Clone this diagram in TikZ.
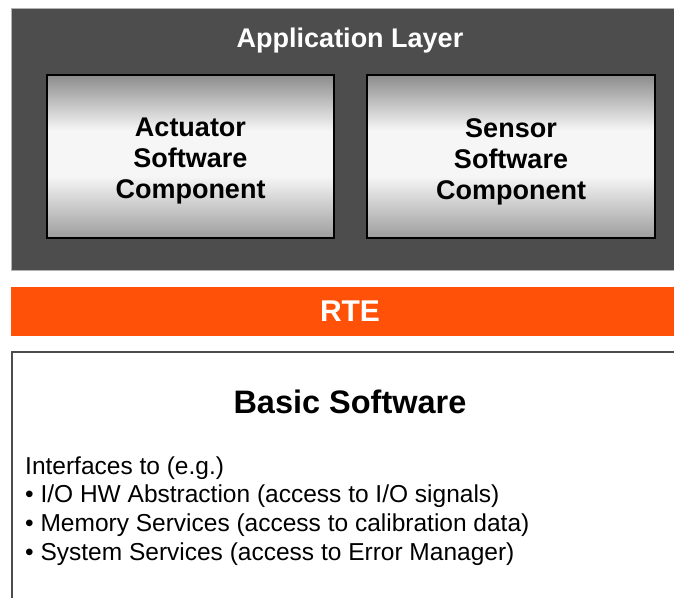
\documentclass[tikz,border=0pt]{standalone}
\usepackage{fontspec}
\setmainfont{Liberation Sans}
\definecolor{applayer}{HTML}{4D4D4D}
\definecolor{rteorange}{HTML}{FF5208}
\definecolor{compgray}{HTML}{8C8C8C}
\definecolor{compwhite}{HTML}{F6F6F6}
\pgfdeclareverticalshading{compshade}{100bp}{%
  color(0bp)=(compgray!85!white); color(25bp)=(compgray!85!white);
  color(44bp)=(compwhite); color(58bp)=(compwhite);
  color(75bp)=(compgray); color(100bp)=(compgray)}
\tikzset{
  panel/.style={anchor=north west, inner sep=0pt, outer sep=0pt},
  layerbox/.style={panel, fill=applayer, draw=black!30, line width=1pt},
  compbox/.style={panel, shading=compshade, draw=black, line width=2pt},
  rtebar/.style={panel, fill=rteorange},
  bswbox/.style={panel, fill=white, draw=black!70, line width=2pt},
  titletext/.style={font=\bfseries\fontsize{27}{32}\selectfont, text=white, anchor=base, inner sep=0pt},
  comptext/.style={font=\bfseries\fontsize{27}{31}\selectfont, align=center, inner sep=0pt},
  bigtitle/.style={font=\bfseries\fontsize{32.5}{38}\selectfont, anchor=base, inner sep=0pt},
  bodytext/.style={font=\fontsize{24.5}{29}\selectfont, anchor=base west, inner sep=0pt}
}
\begin{document}
\begin{tikzpicture}[x=1pt, y=-1pt]
  \useasboundingbox (0,0) rectangle (674,597);
  \clip (0,0) rectangle (674,597);

  % application layer
  \node[layerbox, minimum width=690pt, minimum height=262pt] (app) at (11,8) {};
  \node[titletext] (applbl) at (350,47) {Application Layer};
  \node[compbox, minimum width=287pt, minimum height=163pt] (act) at (47,75) {};
  \node[compbox, minimum width=288pt, minimum height=163pt] (sens) at (367,75) {};
  \node[comptext] (actlbl) at ([yshift=-5pt]act.center) {Actuator\\Software\\Component};
  \node[comptext] (senslbl) at ([yshift=-5pt]sens.center) {Sensor\\Software\\Component};

  % runtime environment
  \node[rtebar, minimum width=690pt, minimum height=49pt] (rte) at (11,287) {};
  \node[titletext, font=\bfseries\fontsize{30}{34}\selectfont] (rtelbl) at (350,321) {RTE};

  % basic software
  \node[bswbox, minimum width=700pt, minimum height=280pt] (bsw) at (12,352) {};
  \node[bigtitle] (bswlbl) at (350,413) {Basic Software};
  \node[bodytext] (if0) at (25,474) {Interfaces to (e.g.)};
  \node[bodytext] (if1) at (25,502.5) {• I/O HW Abstraction (access to I/O signals)};
  \node[bodytext] (if2) at (25,531) {• Memory Services (access to calibration data)};
  \node[bodytext] (if3) at (25,560) {• System Services (access to Error Manager)};
\end{tikzpicture}
\end{document}
